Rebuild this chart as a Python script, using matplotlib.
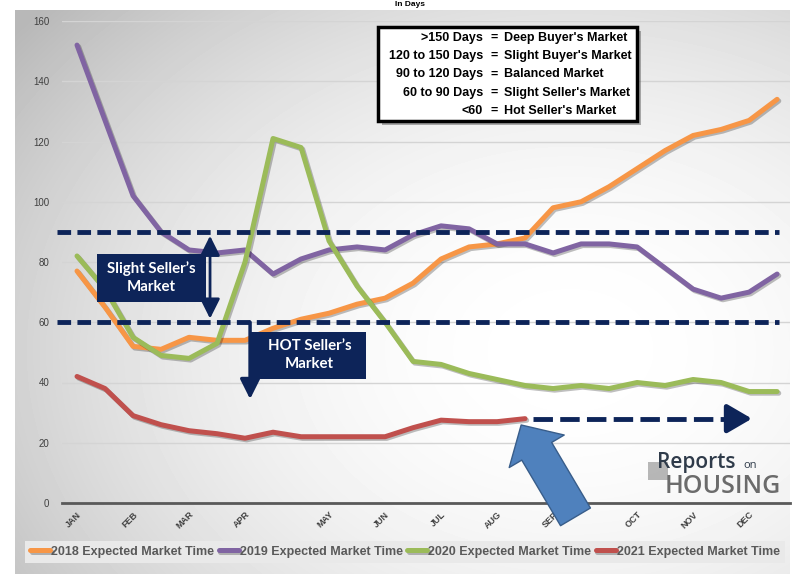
import numpy as np
import matplotlib
matplotlib.use("Agg")
import matplotlib.pyplot as plt
import matplotlib.patheffects as pe
from matplotlib.patches import Rectangle

W, H = 799, 578

# biweekly readings, Jan .. Dec
months = ["JAN", "FEB", "MAR", "APR", "MAY", "JUN", "JUL", "AUG", "SEP", "OCT", "NOV", "DEC"]
month_pos = [0, 2, 4, 6, 9, 11, 13, 15, 17, 20, 22, 24]

y2018 = [77, 65, 52, 51, 55, 54, 54, 58, 61, 63, 66, 68, 73, 81, 85, 86, 88, 98, 100, 105, 111, 117, 122, 124, 127, 134]
y2019 = [152, 127, 102, 90, 84, 83, 84, 76, 81, 84, 85, 84, 89, 92, 91, 86, 86, 83, 86, 86, 85, 78, 71, 68, 70, 76]
y2020 = [82, 71, 55, 49, 48, 53, 80, 121, 118, 87, 72, 60, 47, 46, 43, 41, 39, 38, 39, 38, 40, 39, 41, 40, 37, 37]
y2021 = [42, 38, 29, 26, 24, 23, 21.5, 23.5, 22, 22, 22, 22, 25, 27.5, 27, 27, 28]

series = [
    ("2018 Expected Market Time", y2018, "#f79646"),
    ("2019 Expected Market Time", y2019, "#8064a2"),
    ("2020 Expected Market Time", y2020, "#9bbb59"),
    ("2021 Expected Market Time", y2021, "#c0504d"),
]

thresholds = [60, 90]
key_left = [">150 Days", "120 to 150 Days", "90 to 120 Days", "60 to 90 Days", "<60"]
key_right = ["Deep Buyer's Market", "Slight Buyer's Market", "Balanced Market",
             "Slight Seller's Market", "Hot Seller's Market"]

navy = "#0d2459"
plt.rcParams['font.family'] = ['Liberation Sans', 'DejaVu Sans']

fig = plt.figure(figsize=(W / 100, H / 100), dpi=100)

# chart area background (grey radial gradient)
bg = fig.add_axes([0, 0, 1, 1])
bg.set_xlim(0, W)
bg.set_ylim(H, 0)
bg.axis('off')
yy, xx = np.mgrid[10:574, 15:790]
d = np.sqrt(((xx - 570) / 540.0) ** 2 + ((yy - 350) / 400.0) ** 2)
g = 1 - 0.28 * np.clip(d, 0, 1.3) ** 2 / 1.69
bg.imshow(g, cmap='gray', vmin=0, vmax=1, extent=(15, 790, 574, 10), aspect='auto')
bg.text(410, 4.5, "In Days", ha='center', va='center', fontsize=6, fontweight='bold')

ax = fig.add_axes([62 / W, (H - 503) / H, (790 - 62) / W, (503 - 21) / H])
ax.patch.set_alpha(0)
ax.set_xlim(-0.536, 25.46)
ax.set_ylim(0, 160)
ax.set_yticks(range(0, 161, 20))
ax.yaxis.grid(True, color='#d4d4d4', lw=1)
ax.set_axisbelow(True)
for s in ['top', 'right', 'left']:
    ax.spines[s].set_visible(False)
ax.spines['bottom'].set_color('#595959')
ax.spines['bottom'].set_linewidth(2)
ax.tick_params(length=0)
ax.tick_params(axis='y', labelsize=7, labelcolor='#404040', pad=9)
ax.set_xticks(month_pos)
ax.set_xticklabels(months, rotation=45, ha='right', rotation_mode='anchor',
                   fontsize=6.5, fontweight='bold', color='#404040')
ax.tick_params(axis='x', pad=5)

shadow = [pe.SimpleLineShadow(offset=(1.2, -1.2), alpha=0.25), pe.Normal()]
for label, vals, color in series:
    ax.plot(np.arange(len(vals)), vals, color=color, lw=3.6, label=label,
            solid_capstyle='round', solid_joinstyle='round', path_effects=shadow, zorder=3)

# threshold dashes
for t in thresholds:
    ax.plot([-0.7, 25.05], [t, t], color=navy, lw=3.5, dashes=(2.8, 1.3),
            clip_on=False, zorder=4)

# forward dashed arrow after 2021
ax.plot([16.3, 23.4], [y2021[-1], y2021[-1]], color=navy, lw=3.5, dashes=(4.0, 1.5), zorder=4)
ax.annotate("", xy=(24.1, y2021[-1]), xytext=(23.3, y2021[-1]),
            arrowprops=dict(arrowstyle='-|>,head_length=0.6,head_width=0.35', color=navy,
                            lw=3.5, mutation_scale=25, shrinkA=0, shrinkB=0), zorder=4)

# slight seller's box
ax.add_patch(Rectangle((0.71, 66.7), 3.9, 16, fc=navy, ec='none', zorder=5))
ax.text(2.66, 74.7, "Slight Seller\u2019s\nMarket", ha='center', va='center', color='white',
        fontsize=10.8, fontweight='bold', family='Lato', linespacing=1.35, zorder=6)
ax.annotate("", xy=(4.75, 88.7), xytext=(4.75, 61.2),
            arrowprops=dict(arrowstyle='<|-|>,head_length=0.6,head_width=0.3', color=navy,
                            lw=2, mutation_scale=20, shrinkA=0, shrinkB=0), zorder=6)

# hot seller's box
ax.add_patch(Rectangle((6.18, 41.2), 4.14, 15.6, fc=navy, ec='none', zorder=5))
ax.text(8.3, 49, "HOT Seller\u2019s\nMarket", ha='center', va='center', color='white',
        fontsize=10.8, fontweight='bold', family='Lato', linespacing=1.35, zorder=6)
ax.annotate("", xy=(6.18, 34.5), xytext=(6.18, 60),
            arrowprops=dict(arrowstyle='-|>,head_length=0.6,head_width=0.3', color=navy,
                            lw=2.5, mutation_scale=20, shrinkA=0, shrinkB=0), zorder=6)

# key box
key = Rectangle((10.75, 126.8), 9.25, 31.2, fc='white', ec='black', lw=2.5, zorder=5,
                path_effects=[pe.SimplePatchShadow(offset=(3, -3), alpha=0.45), pe.Normal()])
ax.add_patch(key)
for i, (l, r) in enumerate(zip(key_left, key_right)):
    yv = 154.4 - 6.05 * i
    ax.text(14.5, yv, l, ha='right', va='center', fontsize=9, fontweight='bold', zorder=6)
    ax.text(14.89, yv, "=", ha='center', va='center', fontsize=9, fontweight='bold', zorder=6)
    ax.text(15.25, yv, r, ha='left', va='center', fontsize=9, fontweight='bold', zorder=6)

# big pointer arrow
ax.annotate("", xy=(15.86, 25.9), xytext=(17.8, -4.6), annotation_clip=False,
            arrowprops=dict(arrowstyle='simple,head_length=1.1,head_width=2.3,tail_width=1.25',
                            fc='#4f81bd', ec='#385d8a', lw=1, mutation_scale=20,
                            shrinkA=0, shrinkB=0), zorder=7)

# logo
bg.add_patch(Rectangle((648, 462), 20, 18, fc='#8a8a8a', ec='none', alpha=0.6))
bg.text(657, 468, "Reports", ha='left', va='baseline', fontsize=15, color='#2f3b4a',
        family='Open Sans', fontweight='semibold')
bg.text(743, 468, "on", ha='left', va='baseline', fontsize=8, color='#2f3b4a', family='Open Sans')
bg.text(781, 493, "HOUSING", ha='right', va='baseline', fontsize=18, color='#6b6b6b',
        family='Open Sans', fontweight='semibold')

handles, labels = ax.get_legend_handles_labels()
leg = fig.legend(handles, labels, loc='center', ncol=4, mode='expand',
                 bbox_to_anchor=(25 / W, (H - 571) / H, 760 / W, 39 / H),
                 frameon=True, facecolor='#e9e9e9', edgecolor='none', fancybox=False,
                 framealpha=1, prop=dict(weight='bold', size=9), labelcolor='#595959',
                 handlelength=1.6, handletextpad=0.1, columnspacing=0.3, borderaxespad=0)

fig.savefig("out.png", dpi=100)
